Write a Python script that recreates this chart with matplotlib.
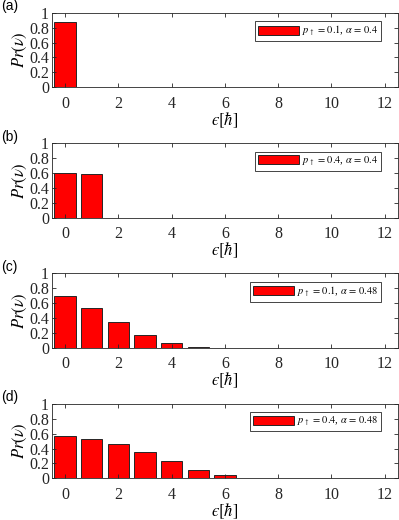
import matplotlib
matplotlib.use("Agg")
import matplotlib.pyplot as plt
import numpy as np

plt.rcParams['font.family'] = ['Liberation Serif', 'DejaVu Serif']
plt.rcParams['mathtext.fontset'] = 'stix'

energy = np.arange(13)  # epsilon [hbar]

pr_a = [0.88, 0, 0, 0, 0, 0, 0, 0, 0, 0, 0, 0, 0]
pr_b = [0.60, 0.59, 0, 0, 0, 0, 0, 0, 0, 0, 0, 0, 0]
pr_c = [0.69, 0.53, 0.34, 0.17, 0.06, 0.01, 0.002, 0, 0, 0, 0, 0, 0]
pr_d = [0.57, 0.53, 0.46, 0.35, 0.23, 0.11, 0.04, 0.01, 0.002, 0, 0, 0, 0]

panel_labels = ["(a)", "(b)", "(c)", "(d)"]
legend_labels = [r"$p_{\uparrow}\,=\,0.1$, $\alpha\,=\,0.4$",
                 r"$p_{\uparrow}\,=\,0.4$, $\alpha\,=\,0.4$",
                 r"$p_{\uparrow}\,=\,0.1$, $\alpha\,=\,0.48$",
                 r"$p_{\uparrow}\,=\,0.4$, $\alpha\,=\,0.48$"]
all_data = [pr_a, pr_b, pr_c, pr_d]

fig = plt.figure(figsize=(3.99, 5.2), dpi=100)
bottoms = [0.832, 0.581, 0.331, 0.080]
edge = '#262626'

for i in range(4):
    ax = fig.add_axes([0.1296, bottoms[i], 0.868, 0.1436])
    ax.bar(energy, all_data[i], width=0.8, color='#ff0000', edgecolor=edge,
           linewidth=0.7, label=legend_labels[i])
    ax.set_xlim(-0.5, 12.5)
    ax.set_ylim(0, 1)
    ax.set_xticks([0, 2, 4, 6, 8, 10, 12])
    ax.set_yticks([0, 0.2, 0.4, 0.6, 0.8, 1])
    ax.set_yticklabels(["0", "0.2", "0.4", "0.6", "0.8", "1"])
    ax.tick_params(direction='in', top=True, right=True, length=3, width=0.6,
                   labelsize=11.5, colors=edge)
    ax.tick_params(axis='x', pad=6)
    ax.tick_params(axis='y', pad=2)
    for s in ax.spines.values():
        s.set_linewidth(0.6)
        s.set_color(edge)
    ax.set_ylabel(r"$Pr(\nu)$", fontsize=12, labelpad=0)
    ax.set_xlabel("$\u03f5[\\hbar]$", fontsize=12, labelpad=-1)
    leg = ax.legend(loc='upper right', fontsize=7.5, handlelength=3.9,
                    handleheight=1.0, handletextpad=0.3, borderpad=0.3,
                    borderaxespad=0.8, fancybox=False, framealpha=1,
                    bbox_to_anchor=(0.975, 1.0))
    leg.get_frame().set_edgecolor(edge)
    leg.get_frame().set_linewidth(0.6)
    fig.text(0.003, bottoms[i] + 0.1436 + 0.012, panel_labels[i],
             family='Liberation Sans', fontsize=10, va='center', ha='left')

fig.savefig("out.png", dpi=100)
